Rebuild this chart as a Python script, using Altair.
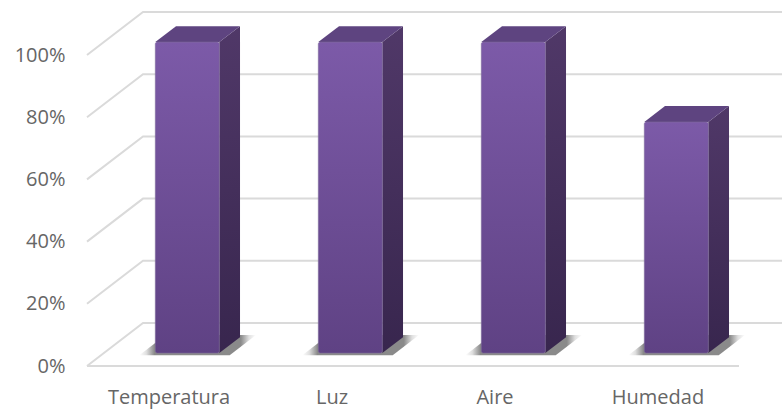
import altair as alt
import pandas as pd

# Chart content
categories = ["Temperatura", "Luz", "Aire", "Humedad"]
values = [1.0, 1.0, 1.0, 0.743]
grid_levels = [0.0, 0.2, 0.4, 0.6, 0.8, 1.0]
tick_positions = [0.5, 1.5, 2.5, 3.5]

# Oblique projection of the box: one unit of depth moves a point right and up
DEPTH_X = 56 / 163
DEPTH_Y = 43 / 311
BAR_WIDTH = 64 / 163
BAR_SHIFT = 2 / 163
BAR_NEAR = 0.30
BAR_FAR = 0.67
X_MAX = 695 / 163
Y_MAX = 366 / 311


def proj(s, v, d):
    return s + DEPTH_X * d, v + DEPTH_Y * d


# Wall and floor gridlines
grid_rows = []
for level in grid_levels:
    for order, (s, d) in enumerate([(0, 0), (0, 1), (X_MAX, 1)]):
        px, py = proj(s, level, d)
        grid_rows.append({"level": level, "order": order, "px": px, "py": py})
floor_rows = []
for order, (s, d) in enumerate([(0, 0), (4, 0)]):
    px, py = proj(s, 0, d)
    floor_rows.append({"order": order, "px": px, "py": py})


def band(points):
    """Turn a parallelogram given as (x, low, high) breakpoints into area rows."""
    return [{"px": a, "low": b, "high": c} for a, b, c in points]


front_rows, side_rows, top_rows, shadow_rows = [], [], [], []
for i, (cat, val) in enumerate(zip(categories, values)):
    left = i + 0.5 + BAR_SHIFT - BAR_WIDTH / 2
    right = left + BAR_WIDTH
    # front face
    x0, y0 = proj(left, 0, BAR_NEAR)
    x1, y1 = proj(right, val, BAR_NEAR)
    front_rows.append({"cat": cat, "x0": x0, "x1": x1, "y0": y0, "y1": y1})
    # side face, sheared upward toward the back
    x2, y2 = proj(right, 0, BAR_FAR)
    y3 = proj(right, val, BAR_FAR)[1]
    side_rows += [
        {"cat": cat, **r}
        for r in band([(x1, y0, y1), (x2, y2, y3)])
    ]
    # top face
    xa, ya = proj(left, val, BAR_NEAR)
    xb, yb = proj(left, val, BAR_FAR)
    xc, yc = proj(right, val, BAR_NEAR)
    xd, yd = proj(right, val, BAR_FAR)
    top_rows += [
        {"cat": cat, **r}
        for r in band([(xa, ya, ya), (xb, ya, yb), (xc, ya, yb), (xd, yb, yb)])
    ]
    # soft floor shadow, sits a little wider than the footprint
    grow = 0.081
    sa = proj(left - grow, 0, 0.25)
    sb = proj(left - grow, 0, 0.72)
    sc = proj(right + grow, 0, 0.25)
    sd = proj(right + grow, 0, 0.72)
    shadow_rows += [
        {"cat": cat, **r}
        for r in band([(sa[0], sa[1], sa[1]), (sb[0], sa[1], sb[1]),
                       (sc[0], sa[1], sb[1]), (sd[0], sb[1], sb[1])])
    ]

x_scale = alt.Scale(domain=[0, X_MAX], nice=False, zero=False)
y_scale = alt.Scale(domain=[0, Y_MAX], nice=False, zero=False)
FONT = "Open Sans"
TEXT = "#666666"

label_expr = "{0.5:'Temperatura',1.5:'Luz',2.5:'Aire',3.5:'Humedad'}[datum.value]"
x_axis = alt.Axis(
    title=None, values=tick_positions, labelExpr=label_expr, domain=False, ticks=False,
    grid=False, labelFont=FONT, labelFontSize=20, labelColor=TEXT, labelPadding=21)
y_axis = alt.Axis(
    title=None, values=grid_levels, format=".0%", domain=False, ticks=False,
    grid=False, labelFont=FONT, labelFontSize=20, labelColor=TEXT, labelPadding=22)

grid = alt.Chart(pd.DataFrame(grid_rows)).mark_line(color="#dadada", strokeWidth=2).encode(
    x=alt.X("px:Q", scale=x_scale, axis=x_axis),
    y=alt.Y("py:Q", scale=y_scale, axis=y_axis),
    detail="level:N", order="order:Q",
)
floor = alt.Chart(pd.DataFrame(floor_rows)).mark_line(color="#dadada", strokeWidth=2).encode(
    x=alt.X("px:Q", scale=x_scale),
    y=alt.Y("py:Q", scale=y_scale),
    order="order:Q",
)


def v_gradient(top, bottom):
    return alt.Gradient(gradient="linear", x1=0, y1=0, x2=0, y2=1,
                        stops=[alt.GradientStop(color=top, offset=0),
                               alt.GradientStop(color=bottom, offset=1)])


shadow_fill = alt.Gradient(
    gradient="linear", x1=0, y1=0, x2=1, y2=0,
    stops=[alt.GradientStop(color="#ffffff", offset=0),
           alt.GradientStop(color="#e0e0e0", offset=0.06),
           alt.GradientStop(color="#8a8a8a", offset=0.13),
           alt.GradientStop(color="#8a8a8a", offset=0.87),
           alt.GradientStop(color="#e0e0e0", offset=0.94),
           alt.GradientStop(color="#ffffff", offset=1)])


def band_layer(rows, **mark_kwargs):
    return alt.Chart(pd.DataFrame(rows)).mark_area(orient="vertical", **mark_kwargs).encode(
        x=alt.X("px:Q", scale=x_scale),
        y=alt.Y("low:Q", scale=y_scale, stack=None),
        y2="high",
        detail="cat:N",
    )


shadow = band_layer(shadow_rows, color=shadow_fill)
side = band_layer(side_rows, color=v_gradient("#503868", "#38264e"))
top = band_layer(top_rows, color="#5e4480")
front = alt.Chart(pd.DataFrame(front_rows)).mark_rect(
    color=v_gradient("#7c5aa8", "#5f4284"), stroke="#7f6b9c", strokeWidth=0.6, cornerRadius=2,
).encode(
    x=alt.X("x0:Q", scale=x_scale), x2="x1",
    y=alt.Y("y0:Q", scale=y_scale), y2="y1",
)

chart = alt.layer(grid, floor, shadow, side, top, front).properties(
    width=695, height=366,
    padding={"left": 87, "top": 0, "right": 0, "bottom": 46},
    autosize=alt.AutoSizeParams(type="none"),
    background="white",
).configure_view(stroke=None)

chart.save("out.html", embed_options={"renderer": "svg", "actions": False})
